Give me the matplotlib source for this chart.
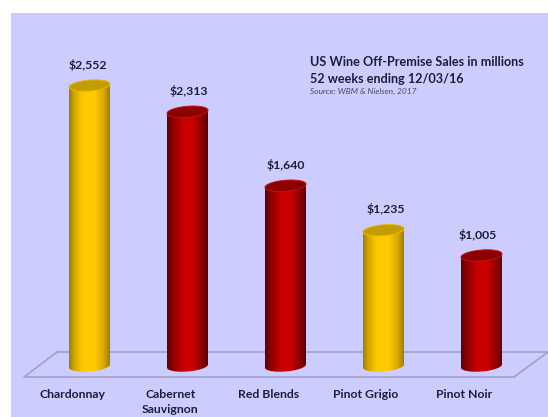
import numpy as np
import matplotlib.pyplot as plt
from matplotlib.colors import LinearSegmentedColormap
from matplotlib.lines import Line2D
from matplotlib.patches import PathPatch, Rectangle
from matplotlib.path import Path

plt.rcParams['font.family'] = ['Lato', 'DejaVu Sans']

categories = ['Chardonnay', 'Cabernet\nSauvignon', 'Red Blends', 'Pinot Grigio', 'Pinot Noir']
sales = [2552, 2313, 1640, 1235, 1005]
labels = ['$2,552', '$2,313', '$1,640', '$1,235', '$1,005']
kinds = ['white', 'red', 'red', 'white', 'red']

W, H = 548, 417
text_col = '#1e1e3c'
px_per_unit = 0.1099
x0_px, step_px, base_px = 89.5, 98, 366
half_w = 20.5 / step_px
cap_b = 5.5 / px_per_unit
cap_tilt = 1.6 / px_per_unit
# small nudges of the value labels, in points
label_dx = [-1, 1, 0, 1.5, -3]

colors = {
    'white': LinearSegmentedColormap.from_list('y', [(0, '#9c7f00'), (0.12, '#d0a400'), (0.32, '#fdc800'),
                                                     (0.62, '#ffcc00'), (0.85, '#d9a800'), (1, '#9c7f00')]),
    'red': LinearSegmentedColormap.from_list('r', [(0, '#5e0000'), (0.14, '#8e0000'), (0.38, '#c60000'),
                                                   (0.62, '#cc0000'), (0.85, '#8e0000'), (1, '#5e0000')]),
}
cap_col = {'white': '#c29c00', 'red': '#8c0000'}
rim_col = {'white': '#e8bb00', 'red': '#c01010'}

fig = plt.figure(figsize=(W / 100, H / 100), dpi=100, facecolor='white')
fig.add_artist(Rectangle((11 / W, 0), (W - 11) / W, (H - 13) / H, transform=fig.transFigure,
                         facecolor='#ccccff', edgecolor='none', zorder=-3))

# floor of the 3d chart
floor_x = [57, 548, 514, 24, 57]
floor_y = [352, 352, 377, 377, 352]
fig.add_artist(Line2D([x / W for x in floor_x], [1 - y / H for y in floor_y], transform=fig.transFigure,
                      color='#9d9dc4', lw=1.1, zorder=-2))

ax = fig.add_axes([0, 0, 1, 1])
ax.patch.set_alpha(0)
ax.axis('off')

t = np.linspace(0, 2 * np.pi, 81)
for i, (val, kind) in enumerate(zip(sales, kinds)):
    ex = half_w * np.cos(t)
    ey = cap_b * np.sin(t) + cap_tilt * np.cos(t)

    # body: straight sides, rounded bottom, flat behind the cap
    body_x = np.r_[i - half_w, i + ex[40:], i + half_w, i - half_w]
    body_y = np.r_[val + ey[40], ey[40:], val + ey[80], val + ey[40]]
    body = PathPatch(Path(np.c_[body_x, body_y]), facecolor='none', edgecolor='none')
    ax.add_patch(body)
    img = ax.imshow(np.linspace(0, 1, 128).reshape(1, -1), cmap=colors[kind], aspect='auto', zorder=2,
                    extent=[i - half_w, i + half_w, -2 * cap_b, val + 2 * cap_b])
    img.set_clip_path(body)

    ax.fill(i + ex, val + ey, facecolor=cap_col[kind], edgecolor=rim_col[kind], lw=0.7, zorder=3)

    ax.annotate(labels[i], (i, val), xytext=(label_dx[i], 15), textcoords='offset points', ha='center', va='center',
                fontsize=8.8, fontweight='bold', color=text_col)
    ax.annotate(categories[i], (i, 0), xytext=(-12.5, -16.5), textcoords='offset points', ha='center', va='top',
                fontsize=8.8, fontweight='bold', color=text_col, linespacing=1.5)

# imshow resets the limits, so set them last
ax.set_xlim(-x0_px / step_px, (W - x0_px) / step_px)
ax.set_ylim(-(H - base_px) / px_per_unit, base_px / px_per_unit)

fig.text(310 / W, 1 - 62 / H, 'US Wine Off-Premise Sales in millions', ha='left', va='center',
         fontsize=9.1, fontweight='bold', color=text_col)
fig.text(310 / W, 1 - 79 / H, '52 weeks ending 12/03/16', ha='left', va='center',
         fontsize=9.1, fontweight='bold', color=text_col)
fig.text(310 / W, 1 - 91.5 / H, 'Source: WBM & Nielsen, 2017', ha='left', va='center',
         fontsize=6, style='italic', color='#4a4a60')

fig.savefig('out.png', dpi=100)
